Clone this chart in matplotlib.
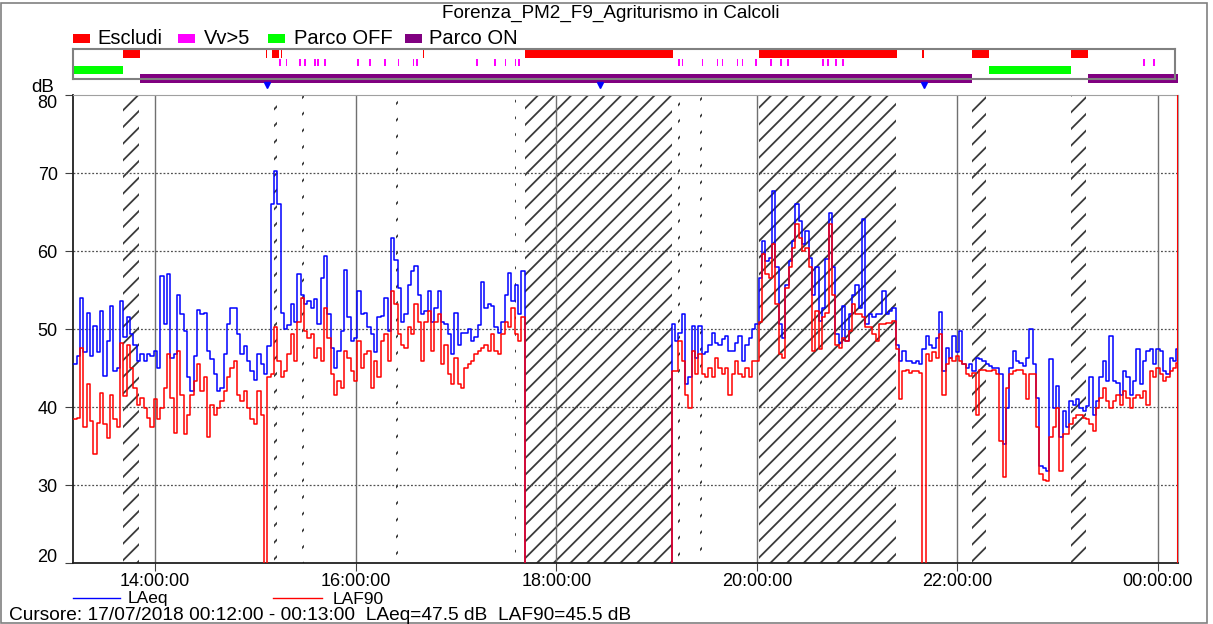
import numpy as np
import matplotlib
matplotlib.use("Agg")
import matplotlib.pyplot as plt
import matplotlib.transforms as mtransforms
from matplotlib.patches import Rectangle
from matplotlib.lines import Line2D

plt.rcParams['font.family'] = ['Liberation Sans', 'DejaVu Sans']
plt.rcParams['hatch.linewidth'] = 1.3

W, H = 1213, 624

# 2-minute values starting 13:11 (dB)
start = "13:11"
step_min = 2

laeq_1311 = [45.5, 46.5, 54.0, 47.0, 52.0, 46.5, 50.4, 47.0, 52.3, 44.0,
             48.5, 53.0, 44.6, 45.0, 53.6, 49.0, 51.5, 49.3, 48.0, 45.9,
             46.8, 45.9, 46.8, 46.5, 47.2, 45.0, 56.8, 50.6, 57.0, 46.3,
             46.8, 54.4, 51.9, 49.7, 43.8, 42.0, 46.5, 52.5, 51.9, 52.0,
             47.2, 46.1, 44.2, 42.0, 42.5, 46.8, 50.6, 52.7, 52.7, 49.3,
             46.8, 47.8, 45.9, 44.6, 43.5, 46.8, 45.5]
laeq_1505 = [44.2, 47.8, 66.0, 70.3, 66.0, 52.0, 50.0, 50.5, 53.2, 50.9,
             57.0, 54.4, 53.2, 53.6, 52.7, 53.8, 50.6, 56.6, 59.4, 51.9,
             47.6, 45.0, 47.2, 49.7, 57.6, 51.5, 48.5, 48.9, 54.9, 51.9,
             52.1, 50.2, 49.3, 47.0, 51.5, 51.7, 54.0, 49.7, 61.7, 58.9,
             55.3, 50.9, 51.9, 55.7, 57.4, 58.1, 54.4, 51.9, 52.3, 54.9,
             50.9, 52.7, 54.9, 50.9, 50.6]
laeq_1655 = [49.3, 46.8, 52.0, 48.0, 49.5, 49.5, 50.0, 48.5, 49.0, 50.5,
             56.0, 52.7, 53.2, 53.0, 50.2, 49.5, 50.9, 54.4, 57.2, 53.6,
             55.7, 51.9, 57.5]
gap_1741 = 44  # no data 17:41 - 19:09
laeq_1909 = [50.6, 48.5, 49.5, 51.9, 43.0, 43.8, 50.4, 46.3, 50.4, 46.8,
             47.0, 48.0, 49.5, 48.2, 48.0, 48.7, 49.1, 47.2, 47.2, 48.2,
             49.1, 45.9, 48.0, 48.9, 50.0, 50.6, 56.6, 61.3, 58.7, 59.1,
             67.7, 57.9, 50.6, 48.9, 55.7, 58.7, 61.3, 66.0, 63.8, 60.9,
             62.6, 59.1, 54.4, 57.9]
laeq_2037 = [51.0, 52.7, 59.0, 64.9, 57.9, 49.3, 48.2, 53.0, 48.5, 51.9,
             54.4, 55.7, 52.7, 64.1, 50.6, 51.9, 51.5, 51.9, 51.9, 54.9,
             51.9, 52.3, 52.7, 48.0, 45.9, 47.2, 45.9, 45.9, 45.7, 45.9,
             45.5, 47.4, 49.1, 48.0, 47.6, 48.9, 52.2, 44.6, 47.6, 46.3,
             49.1, 47.0, 49.7, 45.5, 45.0, 45.5, 44.6, 46.3, 46.1, 45.9,
             45.5, 45.3, 45.0, 45.0, 44.2]
laeq_2227 = [35.2, 39.9, 45.0, 47.2, 45.9, 45.7, 45.3, 46.3, 50.0, 45.5,
             41.2, 32.4, 32.2, 31.8, 46.1, 39.9, 42.7, 36.1, 39.5, 37.4,
             40.8, 40.3, 41.0, 39.9, 39.5, 40.1, 43.8, 39.0, 40.8, 43.8,
             45.9, 43.3, 49.1, 43.3, 43.1, 41.6, 44.6, 43.8, 41.6, 43.3,
             47.4, 42.9, 45.9, 47.2, 47.4, 45.5, 47.4, 47.2, 44.6, 44.2,
             46.3, 45.9, 47.4]

laf90_1311 = [38.5, 38.6, 47.6, 37.4, 43.0, 38.2, 34.0, 38.0, 41.8, 37.8,
              36.0, 41.6, 38.4, 37.5, 48.2, 41.4, 48.0, 45.0, 42.5, 40.3,
              41.2, 39.9, 38.6, 37.4, 41.0, 38.4, 39.9, 42.5, 46.8, 41.2,
              36.7, 47.2, 41.6, 36.5, 39.0, 41.6, 43.3, 45.5, 42.0, 43.8,
              36.1, 40.3, 39.0, 39.9, 40.8, 42.0, 43.8, 45.0, 45.9, 41.6,
              40.8, 42.0, 39.9, 38.4, 37.8, 42.0, 39.0]
laf90_1505 = [0.0, 43.8, 44.2, 50.2, 45.9, 43.8, 44.6, 46.8, 49.3, 45.9,
              50.9, 54.0, 49.7, 48.9, 49.3, 46.3, 47.6, 45.9, 52.7, 48.9,
              44.2, 41.6, 43.3, 42.5, 47.2, 46.3, 44.6, 43.3, 48.5, 45.0,
              46.8, 47.2, 42.5, 45.9, 43.8, 48.5, 49.3, 45.9, 54.9, 53.2,
              49.3, 48.0, 47.6, 50.2, 49.3, 53.2, 50.9, 45.9, 50.9, 52.3,
              47.2, 50.9, 51.9, 45.5, 48.0]
laf90_1655 = [44.2, 42.9, 46.3, 43.0, 42.5, 45.0, 45.5, 45.9, 46.8, 47.2,
              47.6, 48.0, 47.2, 49.3, 47.2, 46.8, 49.3, 50.9, 50.2, 52.7,
              49.3, 48.5, 51.5]
laf90_1909 = [44.6, 44.6, 48.5, 45.9, 41.6, 39.9, 47.2, 44.2, 46.8, 44.2,
              43.8, 45.0, 43.8, 46.3, 45.0, 44.2, 45.0, 41.6, 44.2, 45.9,
              44.2, 43.8, 45.0, 43.8, 45.9, 45.9, 50.9, 59.6, 57.0, 56.6,
              60.9, 53.2, 46.8, 46.3, 55.3, 57.9, 60.4, 63.4, 61.7, 60.0,
              60.4, 57.9, 47.2, 52.3]
laf90_2037 = [47.4, 51.5, 52.0, 63.4, 54.4, 48.0, 47.6, 48.9, 48.5, 49.7,
              53.2, 51.9, 51.9, 51.5, 50.2, 50.2, 49.3, 48.5, 50.6, 50.6,
              50.8, 50.8, 51.0, 47.5, 41.0, 44.6, 44.8, 44.4, 44.6, 44.6,
              44.4, 0.0, 46.8, 45.9, 47.0, 46.3, 49.3, 41.6, 45.5, 46.3,
              45.9, 46.5, 45.9, 45.5, 44.2, 44.0, 44.3, 39.0, 44.8, 44.8,
              44.6, 44.6, 44.8, 44.2, 35.6]
laf90_2227 = [31.0, 42.5, 44.2, 44.6, 44.8, 44.8, 44.2, 41.0, 44.2, 44.2,
              37.4, 31.4, 30.7, 30.5, 36.1, 37.4, 39.9, 31.8, 36.5, 36.5,
              37.8, 38.6, 39.0, 39.0, 38.6, 38.4, 37.8, 36.9, 39.9, 41.2,
              42.5, 40.8, 39.9, 40.8, 41.6, 40.3, 42.0, 41.2, 39.9, 41.2,
              41.6, 41.2, 42.0, 40.3, 44.6, 43.8, 45.0, 44.2, 43.3, 43.8,
              44.6, 45.0, 45.7]

# event bands: (start, minutes)
escludi = [("13:41", 10), ("15:06", 1), ("15:10", 4), ("15:15", 1), ("16:40", 1),
           ("17:41", 89), ("20:01", 83), ("21:39", 1), ("22:09", 10), ("23:08", 10)]
vv5 = ["15:14", "15:18", "15:26", "15:29", "15:35", "15:37", "15:41", "16:01",
       "16:08", "16:17", "16:25", "16:34", "16:36", "17:12", "17:23", "17:29",
       "17:35", "17:37", "19:13", "19:15", "19:27", "19:36", "19:39", "19:48",
       "19:51", "19:59", "20:08", "20:14", "20:18", "20:39", "20:42", "20:47",
       "20:51", "23:51", "23:57"]
parco_off = [("13:11", 30), ("22:19", 49)]
parco_on = [("13:51", 498), ("23:18", 54)]
hatched = [("13:41", 9), ("15:11", 2), ("15:28", 1), ("16:24", 1), ("17:35", 1),
           ("17:41", 88), ("19:13", 1), ("19:26", 1), ("20:01", 82),
           ("22:09", 8), ("23:08", 9)]
markers = ["15:07", "18:26", "21:40"]
cursor = "00:12"
x_ticks = ["14:00", "16:00", "18:00", "20:00", "22:00", "00:00"]


def hours(s):
    h, m = s.split(":")
    h = int(h)
    if h < 12:
        h += 24
    return h + int(m) / 60.0


def rect(x0, y0, x1, y1):
    # figure pixel box -> fraction
    return [x0 / W, 1 - y1 / H, (x1 - x0) / W, (y1 - y0) / H]


laeq = laeq_1311 + laeq_1505 + laeq_1655 + [None] * gap_1741 + laeq_1909 + laeq_2037 + laeq_2227
laf90 = laf90_1311 + laf90_1505 + laf90_1655 + [None] * gap_1741 + laf90_1909 + laf90_2037 + laf90_2227

t = hours(start) + np.arange(len(laeq) + 1) * step_min / 60.0
# logger draws missing intervals at the floor
y_eq = np.array([0.0 if v is None else v for v in laeq])
y_90 = np.array([0.0 if v is None else v for v in laf90])
y_eq = np.append(y_eq, y_eq[-1])
y_90 = np.append(y_90, y_90[-1])

xmin, xmax = hours("13:11") - 0.2 / 60, hours("00:12")

fig = plt.figure(figsize=(W / 100, H / 100), dpi=100)

# outer frame
fig.patches.append(Rectangle((1 / W, 1 / H), (W - 7) / W, (H - 4) / H, transform=fig.transFigure,
                             fill=False, edgecolor="#808080", lw=1.2))

fig.text(611 / W, 1 - 13 / H, "Forenza_PM2_F9_Agriturismo in Calcoli", ha="center", va="center",
         fontsize=13.6)

# top legend
leg_items = [("#ff0000", "Escludi", 73, 97), ("#ff00ff", "Vv>5", 178, 204),
             ("#00ff00", "Parco OFF", 268, 294), ("#800080", "Parco ON", 405, 429)]
for col, lab, px, tx in leg_items:
    fig.patches.append(Rectangle((px / W, 1 - 43 / H), 17 / W, 9 / H, transform=fig.transFigure,
                                 facecolor=col, edgecolor="none"))
    fig.text(tx / W, 1 - 38 / H, lab, ha="left", va="center", fontsize=14.5)

# event band
eb = fig.add_axes(rect(73, 49, 1175, 79))
eb.set_xlim(xmin, xmax - 0.03)
eb.set_ylim(30, 0)
eb.set_xticks([])
eb.set_yticks([])
for s in eb.spines.values():
    s.set_color("#808080")
    s.set_linewidth(1.5)
eb.broken_barh([(hours(s), m / 60) for s, m in escludi], (0, 9), facecolors="#ff0000", clip_on=False)
eb.broken_barh([(hours(s), 1 / 60) for s in vv5], (9.5, 7), facecolors="#ff00ff", clip_on=False)
eb.broken_barh([(hours(s), m / 60) for s, m in parco_off], (16.5, 8.5), facecolors="#00ff00", clip_on=False)
eb.broken_barh([(hours(s), m / 60) for s, m in parco_on], (25, 8.5), facecolors="#800080", clip_on=False)

# main plot
ax = fig.add_axes(rect(73, 95, 1178, 563))
ax.set_xlim(xmin, xmax)
ax.set_ylim(20, 80)

for s, m in hatched:
    ax.axvspan(hours(s), hours(s) + m / 60, facecolor="none", edgecolor="#3a3a3a", hatch="//", lw=0, zorder=1)

for y in range(30, 80, 10):
    ax.axhline(y, color="#505050", lw=0.9, ls=(0, (1.5, 1.5)), zorder=1)
for xt in x_ticks:
    ax.axvline(hours(xt), color="#707070", lw=1.0, zorder=1)

ax.step(t, y_eq, where="post", color="#0000ff", lw=1.1, zorder=3)
ax.step(t, y_90, where="post", color="#ff0000", lw=1.1, zorder=4)
ax.axvline(hours(cursor), color="#ff0000", lw=1.5, zorder=5)

trans = mtransforms.blended_transform_factory(ax.transData, ax.transAxes)
ax.plot([hours(m) for m in markers], [1.021] * len(markers), "v", color="#0000ff", ms=5,
        transform=trans, clip_on=False)

ax.set_yticks(range(20, 81, 10))
ax.set_xticks([hours(x) for x in x_ticks])
ax.set_xticklabels([x + ":00" for x in x_ticks])
ax.tick_params(axis="both", direction="out", length=6, labelsize=13, color="#404040")
ax.tick_params(axis="x", pad=1)
ax.tick_params(axis="y", pad=5)
# end labels sit inside the axis range, as in the logger output
ylabels = ax.get_yticklabels()
ylabels[-1].set_transform(ylabels[-1].get_transform() + mtransforms.ScaledTranslation(0, -6 / 100, fig.dpi_scale_trans))
ylabels[0].set_transform(ylabels[0].get_transform() + mtransforms.ScaledTranslation(0, 7 / 100, fig.dpi_scale_trans))
for sp in ["left", "bottom"]:
    ax.spines[sp].set_color("#202020")
    ax.spines[sp].set_linewidth(1.3)
for sp in ["top", "right"]:
    ax.spines[sp].set_color("#a0a0a0")
    ax.spines[sp].set_linewidth(0.8)

fig.text(43 / W, 1 - 87 / H, "dB", ha="center", va="center", fontsize=13.5)

# bottom legend
fig.lines.append(Line2D([73 / W, 120 / W], [1 - 598 / H] * 2, transform=fig.transFigure, color="#0000ff", lw=1))
fig.text(128 / W, 1 - 599 / H, "LAeq", ha="left", va="center", fontsize=12.5)
fig.lines.append(Line2D([273 / W, 322 / W], [1 - 598 / H] * 2, transform=fig.transFigure, color="#ff0000", lw=1))
fig.text(333 / W, 1 - 599 / H, "LAF90", ha="left", va="center", fontsize=12.5)

fig.text(9 / W, 1 - 615 / H, "Cursore: 17/07/2018 00:12:00 - 00:13:00  LAeq=47.5 dB  LAF90=45.5 dB",
         ha="left", va="center", fontsize=13.8)

fig.savefig("out.png", dpi=100)
